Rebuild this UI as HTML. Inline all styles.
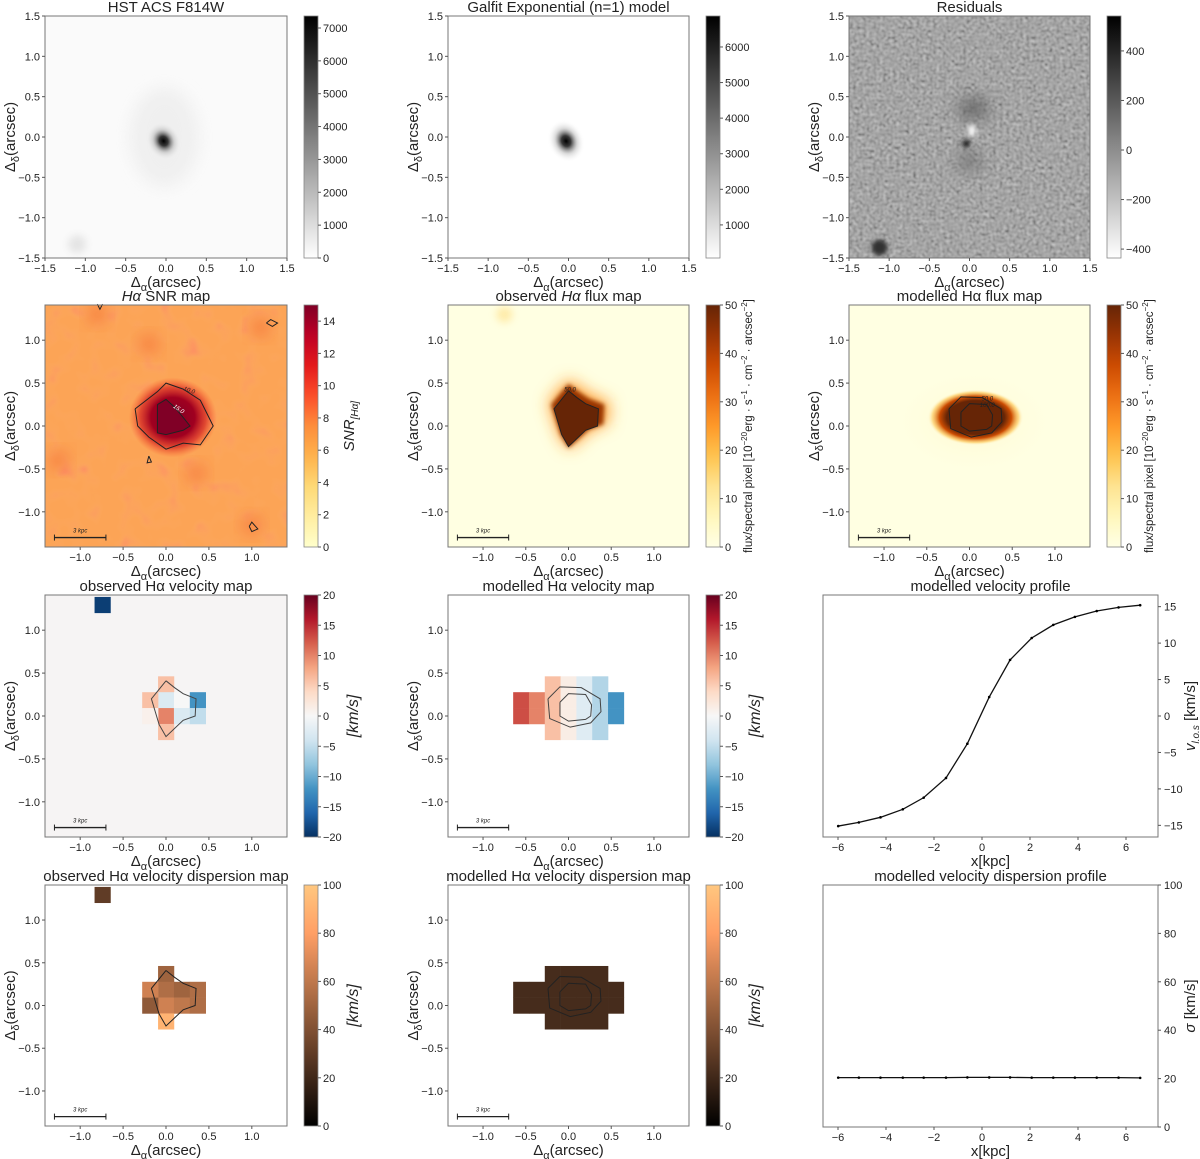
<!DOCTYPE html>
<html><head><meta charset="utf-8"><style>
html,body{margin:0;padding:0;background:#fff}
svg{display:block;font-family:"Liberation Sans","DejaVu Sans",sans-serif}
</style></head><body>
<svg id="fig" width="1200" height="1159" viewBox="0 0 1200 1159" xmlns="http://www.w3.org/2000/svg">
<defs>
<filter id="blur2" x="-50%" y="-50%" width="200%" height="200%"><feGaussianBlur stdDeviation="2"/></filter>
<filter id="blur4" x="-50%" y="-50%" width="200%" height="200%"><feGaussianBlur stdDeviation="4"/></filter>
<filter id="blur8" x="-50%" y="-50%" width="200%" height="200%"><feGaussianBlur stdDeviation="8"/></filter>
<filter id="noise" x="0" y="0" width="100%" height="100%">
<feTurbulence type="fractalNoise" baseFrequency="0.3" numOctaves="1" seed="3"/>
<feColorMatrix type="matrix" values="0.33 0.33 0.33 0 0  0.33 0.33 0.33 0 0  0.33 0.33 0.33 0 0  0 0 0 0 1"/>
<feComponentTransfer><feFuncR type="linear" slope="1.6" intercept="-0.3"/><feFuncG type="linear" slope="1.6" intercept="-0.3"/><feFuncB type="linear" slope="1.6" intercept="-0.3"/></feComponentTransfer>
</filter>
<filter id="noiseSNR" x="0" y="0" width="100%" height="100%">
<feTurbulence type="fractalNoise" baseFrequency="0.05" numOctaves="2" seed="7" result="t"/>
<feColorMatrix in="t" type="matrix" values="0 0 0 0 0.99  0 0 0 -0.9 0.95  0 0 0 0 0.2  0 0 0 1.6 -0.7"/>
</filter>
<clipPath id="clipSNR"><rect x="45" y="305" width="242" height="242"/></clipPath>
<clipPath id="clipRes"><rect x="849" y="16" width="241" height="242"/></clipPath>
<radialGradient id="hstCore"><stop offset="0" stop-color="#000"/><stop offset="0.25" stop-color="#222" stop-opacity="0.9"/><stop offset="0.6" stop-color="#999" stop-opacity="0.35"/><stop offset="1" stop-color="#fff" stop-opacity="0"/></radialGradient>
<radialGradient id="snrCore"><stop offset="0" stop-color="#800026"/><stop offset="0.5" stop-color="#a00020"/><stop offset="0.75" stop-color="#d42020" stop-opacity="0.7"/><stop offset="1" stop-color="#fc4e2a" stop-opacity="0"/></radialGradient>
<radialGradient id="modFlux"><stop offset="0" stop-color="#662506"/><stop offset="0.6" stop-color="#662506"/><stop offset="0.75" stop-color="#cc4c02"/><stop offset="0.9" stop-color="#fec44f" stop-opacity="0.6"/><stop offset="1" stop-color="#ffffe5" stop-opacity="0"/></radialGradient>
<radialGradient id="modHalo"><stop offset="0" stop-color="#fee391" stop-opacity="0.6"/><stop offset="1" stop-color="#ffffe5" stop-opacity="0"/></radialGradient>
</defs>
</svg>
<script>
// ---------- data ----------
const vCells_i = [-4, 0, 0, 0, 0, -1, -1, 1, 1, 2, 2];
const vCells_j = [7, 2, 1, 0, -1, 1, 0, 1, 0, 1, 0];
const vObsVals = [-19, 6, -3, 10, 6, 6, 1, 0, -3, -12, -5];
const dObsVals = [30, 50, 55, 65, 90, 65, 45, 50, 60, 55, 55];
const mCells_i = [-3, -2, -1, 0, 1, 2, 3, -3, -2, -1, 0, 1, 2, 3, -1, 0, 1, 2, -1, 0, 1, 2];
const mCells_j = [1, 1, 1, 1, 1, 1, 1, 0, 0, 0, 0, 0, 0, 0, 2, 2, 2, 2, -1, -1, -1, -1];
const vModVals = [13, 10, 6, 1.5, -2.5, -6, -12, 13, 10, 6, 1.5, -2.5, -6, -12, 6, 1.5, -2.5, -6, 6, 1.5, -2.5, -6];
const dModVals = [22, 22, 22, 22, 22, 22, 22, 22, 22, 22, 22, 22, 22, 22, 22, 22, 22, 22, 22, 22, 22, 22];
const profX = [-5.99, -5.13, -4.23, -3.3, -2.43, -1.5, -0.61, 0.3, 1.17, 2.07, 2.97, 3.87, 4.78, 5.69, 6.59];
const profV = [-15.1, -14.6, -13.9, -12.8, -11.2, -8.5, -3.8, 2.6, 7.7, 10.7, 12.5, 13.6, 14.4, 14.9, 15.2];
const profS = [20.4, 20.4, 20.4, 20.4, 20.4, 20.4, 20.5, 20.5, 20.5, 20.4, 20.4, 20.4, 20.4, 20.4, 20.3];
const mapTicks = [-1.0, -0.5, 0.0, 0.5, 1.0];
const hstTicks = [-1.5, -1.0, -0.5, 0.0, 0.5, 1.0, 1.5];
const profXTicks = [-6, -4, -2, 0, 2, 4, 6];
const profVTicks = [-15, -10, -5, 0, 5, 10, 15];
const profSTicks = [0, 20, 40, 60, 80, 100];
const obsContour = [[0,0.41],[0.1,0.33],[0.2,0.26],[0.35,0.2],[0.34,0.0],[0.2,-0.05],[0,-0.24],[-0.08,-0.1],[-0.17,0.2],[0,0.41]];
const modOuter = [[-0.24,0.2],[-0.1,0.34],[0.15,0.33],[0.37,0.2],[0.38,0.05],[0.26,-0.08],[0.02,-0.13],[-0.22,-0.03],[-0.24,0.2]];
const modInner = [[-0.1,0.16],[0.0,0.26],[0.2,0.25],[0.27,0.13],[0.26,0.0],[0.2,-0.04],[0.0,-0.06],[-0.1,0.0],[-0.1,0.16]];
const snr10 = [[-0.36,0.2],[-0.1,0.4],[0,0.5],[0.2,0.43],[0.4,0.3],[0.55,0.0],[0.4,-0.22],[0.2,-0.2],[0,-0.27],[-0.2,-0.13],[-0.33,0.0],[-0.36,0.2]];
const snr15 = [[-0.1,0.25],[0,0.31],[0.1,0.22],[0.2,0.1],[0.28,0.0],[0.2,-0.05],[0,-0.1],[-0.1,-0.08],[-0.1,0.1],[-0.1,0.25]];
const CELL = 0.185;

// ---------- helpers ----------
const svg = document.getElementById('fig');
const NS = 'http://www.w3.org/2000/svg';
function el(tag, attrs, name, parent) {
  const e = document.createElementNS(NS, tag);
  for (const k in attrs) e.setAttribute(k, attrs[k]);
  
  
  (parent || svg).appendChild(e);
  return e;
}
function txt(x, y, s, size, name, extra) {
  const t = el('text', Object.assign({x: x, y: y, 'font-size': size, fill: '#222'}, extra || {}), name);
  t.textContent = s;
  return t;
}
function hex(h){return [parseInt(h.slice(1,3),16),parseInt(h.slice(3,5),16),parseInt(h.slice(5,7),16)];}
function cmapStops(stops){const c=stops.map(hex);return function(t){t=Math.max(0,Math.min(1,t));const f=t*(c.length-1);const i=Math.min(c.length-2,Math.floor(f));const u=f-i;const r=c[i].map((v,k)=>Math.round(v+(c[i+1][k]-v)*u));return 'rgb('+r.join(',')+')';};}
const RdBu = cmapStops(['#053061','#2166ac','#4393c3','#92c5de','#d1e5f0','#f7f7f7','#fddbc7','#f4a582','#d6604d','#b2182b','#67001f']);
const YlOrBr = ['#ffffe5','#fff7bc','#fee391','#fec44f','#fe9929','#ec7014','#cc4c02','#993404','#662506'];
const YlOrRd = ['#ffffcc','#ffeda0','#fed976','#feb24c','#fd8d3c','#fc4e2a','#e31a1c','#bd0026','#800026'];
function copper(t){t=Math.max(0,Math.min(1,t));return 'rgb('+Math.round(255*Math.min(1,1.25*t))+','+Math.round(255*0.7812*t)+','+Math.round(255*0.4975*t)+')';}

function makeAxes(x0, y0, w, h, lo, hi, ticks, fmt) {
  const sx = v => x0 + (v - lo) / (hi - lo) * w;
  const sy = v => y0 + h - (v - lo) / (hi - lo) * h;
  return {x0, y0, w, h, sx, sy, ticks, fmt};
}
function drawFrame(a, title, key) {
  el('rect', {x: a.x0, y: a.y0, width: a.w, height: a.h, fill: 'none', stroke: '#777', 'stroke-width': 1}, key + '-frame');
  a.ticks.forEach(v => {
    const X = a.sx(v), Y = a.sy(v);
    el('line', {x1: X, y1: a.y0 + a.h, x2: X, y2: a.y0 + a.h + 3, stroke: '#555'}, key + '-x-tick');
    txt(X, a.y0 + a.h + 14, a.fmt(v), 11, key + '-x-tick-label', {'text-anchor': 'middle'});
    el('line', {x1: a.x0 - 3, y1: Y, x2: a.x0, y2: Y, stroke: '#555'}, key + '-y-tick');
    txt(a.x0 - 5, Y + 4, a.fmt(v), 11, key + '-y-tick-label', {'text-anchor': 'end'});
  });
  const xl = el('text', {x: a.x0 + a.w / 2, y: a.y0 + a.h + 29, 'font-size': 15, 'text-anchor': 'middle', fill: '#222'}, key + '-x-axis-title');
  xl.innerHTML = 'Δ<tspan font-size="11" dy="4">α</tspan><tspan dy="-4">(arcsec)</tspan>';
  const yl = el('text', {x: 0, y: 0, 'font-size': 15, 'text-anchor': 'middle', fill: '#222', transform: 'translate(' + (a.x0 - 30) + ',' + (a.y0 + a.h / 2) + ') rotate(-90)'}, key + '-y-axis-title');
  yl.innerHTML = 'Δ<tspan font-size="11" dy="4">δ</tspan><tspan dy="-4">(arcsec)</tspan>';
  const tt = el('text', {x: a.x0 + a.w / 2, y: a.y0 - 4, 'font-size': 15, 'text-anchor': 'middle', fill: '#222'}, key + '-title');
  tt.innerHTML = title;
}
function fmtMap(v){return (v<0?'\u2212':'')+Math.abs(v).toFixed(1);}
function fmtInt(v){return (v<0?'\u2212':'')+Math.abs(v);}

function colorbar(x, y0, h, lo, hi, ticks, colorFn, label, key, labelSize, labelDx) {
  const gid = 'g-' + key;
  const g = el('linearGradient', {id: gid, x1: 0, y1: 1, x2: 0, y2: 0}, key + '-gradient', svg.querySelector('defs'));
  for (let k = 0; k <= 20; k++) el('stop', {offset: k / 20, 'stop-color': colorFn(k / 20)}, key + '-stop', g);
  el('rect', {x: x, y: y0, width: 14, height: h, fill: 'url(#' + gid + ')', stroke: '#888', 'stroke-width': 0.8}, key + '-colorbar');
  ticks.forEach(v => {
    const Y = y0 + h - (v - lo) / (hi - lo) * h;
    el('line', {x1: x + 14, y1: Y, x2: x + 17, y2: Y, stroke: '#555'}, key + '-cb-tick');
    txt(x + 19, Y + 4, fmtInt(v), 11, key + '-cb-tick-label');
  });
  if (label) {
    const l = el('text', {x: 0, y: 0, 'font-size': labelSize || 15, 'text-anchor': 'middle', fill: '#222', transform: 'translate(' + (x + (labelDx || 52)) + ',' + (y0 + h / 2) + ') rotate(-90)'}, key + '-colorbar-label');
    l.innerHTML = label;
  }
}
function poly(a, pts, name, extra) {
  el('polyline', Object.assign({points: pts.map(p => a.sx(p[0]) + ',' + a.sy(p[1])).join(' '), fill: 'none', stroke: '#222', 'stroke-width': 1}, extra || {}), name);
}
function scalebar(a, key) {
  const y = a.sy(-1.3);
  el('line', {x1: a.sx(-1.3), y1: y, x2: a.sx(-0.7), y2: y, stroke: '#222', 'stroke-width': 1.3}, key + '-scalebar');
  el('line', {x1: a.sx(-1.3), y1: y - 3, x2: a.sx(-1.3), y2: y + 3, stroke: '#222'}, key + '-scalebar-cap');
  el('line', {x1: a.sx(-0.7), y1: y - 3, x2: a.sx(-0.7), y2: y + 3, stroke: '#222'}, key + '-scalebar-cap');
  txt(a.sx(-1.0), y - 5, '3 kpc', 6, key + '-scalebar-label', {'text-anchor': 'middle', 'font-style': 'italic'});
}
function cells(a, is, js, vals, colorFn, key) {
  for (let k = 0; k < vals.length; k++) {
    const cx = is[k] * CELL, cy = js[k] * CELL;
    const X1 = a.sx(cx - CELL / 2), X2 = a.sx(cx + CELL / 2), Y1 = a.sy(cy + CELL / 2), Y2 = a.sy(cy - CELL / 2);
    el('rect', {x: X1, y: Y1, width: X2 - X1 + 0.3, height: Y2 - Y1 + 0.3, fill: colorFn(vals[k])}, key + '-cell');
  }
}

const COLX = [45, 448, 849], AW = 242;
const ROWY = [16, 305, 595, 885];
const CBX = [304, 706, 1107];
const LIM = 1.41;
const fluxLabel = 'flux/spectral pixel [10<tspan font-size="8" dy="-5">−20</tspan><tspan dy="5">erg · s</tspan><tspan font-size="8" dy="-5">−1</tspan><tspan dy="5"> · cm</tspan><tspan font-size="8" dy="-5">−2</tspan><tspan dy="5"> · arcsec</tspan><tspan font-size="8" dy="-5">−2</tspan><tspan dy="5">]</tspan>';

// ---------- Row 1 ----------
let a = makeAxes(COLX[0], ROWY[0], AW, AW, -1.5, 1.5, hstTicks, fmtMap);
el('rect', {x: a.x0, y: a.y0, width: AW, height: AW, fill: '#fafafa'}, 'hst-image-bg');
el('ellipse', {cx: a.sx(-0.02), cy: a.sy(0.0), rx: 35, ry: 50, fill: '#e8e8e8', filter: 'url(#blur8)', opacity: 0.6}, 'hst-halo');
el('ellipse', {cx: a.sx(-0.03), cy: a.sy(-0.05), rx: 17, ry: 20, fill: 'url(#hstCore)', transform: 'rotate(-30 ' + a.sx(-0.03) + ' ' + a.sy(-0.05) + ')'}, 'hst-galaxy');
el('circle', {cx: a.sx(-1.1), cy: a.sy(-1.33), r: 9, fill: '#e4e4e4', filter: 'url(#blur4)'}, 'hst-companion');
drawFrame(a, 'HST ACS F814W', 'hst');
colorbar(CBX[0], ROWY[0], AW, 0, 7365, [0,1000,2000,3000,4000,5000,6000,7000], t => { const g = Math.round(255 * (1 - t)); return 'rgb(' + g + ',' + g + ',' + g + ')'; }, null, 'hst');

a = makeAxes(COLX[1], ROWY[0], AW - 1, AW, -1.5, 1.5, hstTicks, fmtMap);
el('rect', {x: a.x0, y: a.y0, width: a.w, height: AW, fill: '#fff'}, 'galfit-image-bg');
el('ellipse', {cx: a.sx(-0.03), cy: a.sy(-0.05), rx: 18, ry: 22, fill: 'url(#hstCore)', transform: 'rotate(-25 ' + a.sx(-0.03) + ' ' + a.sy(-0.05) + ')'}, 'galfit-model');
drawFrame(a, 'Galfit Exponential (n=1) model', 'galfit');
colorbar(CBX[1], ROWY[0], AW, 70, 6870, [1000,2000,3000,4000,5000,6000], t => { const g = Math.round(255 * (1 - t)); return 'rgb(' + g + ',' + g + ',' + g + ')'; }, null, 'galfit');

a = makeAxes(COLX[2], ROWY[0], AW - 1, AW, -1.5, 1.5, hstTicks, fmtMap);
el('rect', {x: a.x0, y: a.y0, width: a.w, height: AW, fill: '#8a8a8a'}, 'residual-image-bg');
el('rect', {x: a.x0, y: a.y0, width: a.w, height: AW, filter: 'url(#noise)', opacity: 0.55}, 'residual-noise');
el('ellipse', {cx: a.sx(0.05), cy: a.sy(0.35), rx: 16, ry: 12, fill: '#606060', filter: 'url(#blur8)', opacity: 0.8}, 'residual-upper');
el('ellipse', {cx: a.sx(0.0), cy: a.sy(-0.3), rx: 14, ry: 10, fill: '#6a6a6a', filter: 'url(#blur8)', opacity: 0.7}, 'residual-lower');
el('ellipse', {cx: a.sx(0.03), cy: a.sy(0.08), rx: 4, ry: 6, fill: '#f4f4f4', filter: 'url(#blur2)'}, 'residual-bright');
el('ellipse', {cx: a.sx(-0.04), cy: a.sy(-0.08), rx: 4, ry: 4, fill: '#222', filter: 'url(#blur2)'}, 'residual-dark');
el('circle', {cx: a.sx(-1.12), cy: a.sy(-1.37), r: 8, fill: '#333', filter: 'url(#blur2)', 'clip-path': 'url(#clipRes)'}, 'residual-companion');
drawFrame(a, 'Residuals', 'residual');
colorbar(CBX[2], ROWY[0], AW, -436, 541, [-400,-200,0,200,400], t => { const g = Math.round(255 * (1 - t)); return 'rgb(' + g + ',' + g + ',' + g + ')'; }, null, 'residual');

// ---------- Row 2 ----------
a = makeAxes(COLX[0], ROWY[1], AW, AW, -LIM, LIM, mapTicks, fmtMap);
el('rect', {x: a.x0, y: a.y0, width: AW, height: AW, fill: '#fca456'}, 'snr-image-bg');
el('rect', {x: a.x0, y: a.y0, width: AW, height: AW, filter: 'url(#noiseSNR)', opacity: 0.45}, 'snr-texture');
[[-0.8,1.3],[-0.2,0.95],[1.1,1.15],[1.0,-1.15],[-1.25,-0.4],[0.35,-0.55]].forEach(p => {
  el('circle', {cx: a.sx(p[0]), cy: a.sy(p[1]), r: 9, fill: '#f05028', opacity: 0.5, filter: 'url(#blur8)', 'clip-path': 'url(#clipSNR)'}, 'snr-blob');
});
el('ellipse', {cx: a.sx(0.08), cy: a.sy(0.1), rx: 44, ry: 40, fill: 'url(#snrCore)'}, 'snr-core');
poly(a, snr10, 'snr-contour-10');
poly(a, snr15, 'snr-contour-15', {fill: '#800026'});
poly(a, [[-0.8,1.42],[-0.77,1.36],[-0.74,1.42]], 'snr-contour-small');
poly(a, [[1.17,1.2],[1.22,1.24],[1.3,1.2],[1.24,1.16],[1.17,1.2]], 'snr-contour-small');
poly(a, [[-0.2,-0.35],[-0.17,-0.42],[-0.22,-0.43],[-0.2,-0.35]], 'snr-contour-small');
poly(a, [[0.97,-1.17],[1.0,-1.12],[1.07,-1.2],[1.0,-1.23],[0.97,-1.17]], 'snr-contour-small');
txt(a.sx(0.2), a.sy(0.42), '10.0', 6, 'snr-contour-label', {'font-style':'italic', transform: 'rotate(20 ' + a.sx(0.2) + ' ' + a.sy(0.42) + ')'});
txt(a.sx(0.08), a.sy(0.22), '15.0', 6, 'snr-contour-label', {'font-style':'italic', fill:'#fff', transform: 'rotate(35 ' + a.sx(0.08) + ' ' + a.sy(0.22) + ')'});
scalebar(a, 'snr');
drawFrame(a, '<tspan font-style="italic">Hα</tspan> SNR map', 'snr');
colorbar(CBX[0], ROWY[1], AW, 0, 15, [0,2,4,6,8,10,12,14], cmapStops(YlOrRd), '<tspan font-style="italic">SNR</tspan><tspan font-size="10" dy="4" font-style="italic">[Hα]</tspan>', 'snr', 15, 50);

a = makeAxes(COLX[1], ROWY[1], AW - 1, AW, -LIM, LIM, mapTicks, fmtMap);
el('rect', {x: a.x0, y: a.y0, width: a.w, height: AW, fill: '#ffffe2'}, 'obsflux-image-bg');
el('circle', {cx: a.sx(-0.75), cy: a.sy(1.3), r: 8, fill: '#fee391', opacity: 0.7, filter: 'url(#blur4)'}, 'obsflux-blob');
el('polygon', {points: obsContour.map(p => a.sx(p[0]*1.35) + ',' + a.sy(p[1]*1.25+0.03)).join(' '), fill: '#fe9929', filter: 'url(#blur8)'}, 'obsflux-glow');
el('polygon', {points: obsContour.map(p => a.sx(p[0]*1.2) + ',' + a.sy(p[1]*1.15+0.02)).join(' '), fill: '#993404', filter: 'url(#blur2)'}, 'obsflux-edge');
poly(a, obsContour, 'obsflux-contour-50', {fill: '#662506'});
txt(a.sx(-0.05), a.sy(0.4), '50.0', 6, 'obsflux-contour-label', {'font-style':'italic'});
scalebar(a, 'obsflux');
drawFrame(a, 'observed <tspan font-style="italic">Hα</tspan> flux map', 'obsflux');
colorbar(CBX[1], ROWY[1], AW, 0, 50, [0,10,20,30,40,50], cmapStops(YlOrBr), fluxLabel, 'obsflux', 11.5, 46);

a = makeAxes(COLX[2], ROWY[1], AW - 1, AW, -LIM, LIM, mapTicks, fmtMap);
el('rect', {x: a.x0, y: a.y0, width: a.w, height: AW, fill: '#ffffe2'}, 'modflux-image-bg');
el('ellipse', {cx: a.sx(0.05), cy: a.sy(0.05), rx: 85, ry: 55, fill: 'url(#modHalo)', opacity: 0.5}, 'modflux-halo');
el('ellipse', {cx: a.sx(0.07), cy: a.sy(0.1), rx: 48, ry: 28, fill: 'url(#modFlux)'}, 'modflux-core');
poly(a, modOuter, 'modflux-contour-50');
poly(a, modInner, 'modflux-contour-100');
txt(a.sx(0.14), a.sy(0.3), '50.0', 6, 'modflux-contour-label', {'font-style':'italic'});
txt(a.sx(0.12), a.sy(0.22), '100.0', 6, 'modflux-contour-label', {'font-style':'italic'});
scalebar(a, 'modflux');
drawFrame(a, 'modelled  Hα flux map', 'modflux');
colorbar(CBX[2], ROWY[1], AW, 0, 50, [0,10,20,30,40,50], cmapStops(YlOrBr), fluxLabel, 'modflux', 11.5, 46);

// ---------- Row 3 ----------
const vColor = v => RdBu((v + 20) / 40);
a = makeAxes(COLX[0], ROWY[2], AW, AW, -LIM, LIM, mapTicks, fmtMap);
el('rect', {x: a.x0, y: a.y0, width: AW, height: AW, fill: '#f6f4f4'}, 'obsvel-image-bg');
cells(a, vCells_i, vCells_j, vObsVals, vColor, 'obsvel');
poly(a, obsContour, 'obsvel-contour', {stroke: '#444'});
scalebar(a, 'obsvel');
drawFrame(a, 'observed Hα velocity map', 'obsvel');
colorbar(CBX[0], ROWY[2], AW, -20, 20, [-20,-15,-10,-5,0,5,10,15,20], t => RdBu(t), '<tspan font-style="italic">[km/s]</tspan>', 'obsvel', 16, 54);

a = makeAxes(COLX[1], ROWY[2], AW - 1, AW, -LIM, LIM, mapTicks, fmtMap);
el('rect', {x: a.x0, y: a.y0, width: a.w, height: AW, fill: '#fff'}, 'modvel-image-bg');
cells(a, mCells_i, mCells_j, vModVals, vColor, 'modvel');
poly(a, modOuter, 'modvel-contour-outer', {stroke: '#444'});
poly(a, modInner, 'modvel-contour-inner', {stroke: '#444'});
scalebar(a, 'modvel');
drawFrame(a, 'modelled  Hα velocity map', 'modvel');
colorbar(CBX[1], ROWY[2], AW, -20, 20, [-20,-15,-10,-5,0,5,10,15,20], t => RdBu(t), '<tspan font-style="italic">[km/s]</tspan>', 'modvel', 16, 54);

function profile(y0, lo, hi, ticksY, xs, ys, title, ylabel, key) {
  const x0 = 823, w = 335, h = AW;
  const sx = v => 982 + v * 24;
  const sy = v => y0 + h - (v - lo) / (hi - lo) * h;
  el('rect', {x: x0, y: y0, width: w, height: h, fill: '#fff', stroke: '#777'}, key + '-frame');
  profXTicks.forEach(v => {
    el('line', {x1: sx(v), y1: y0 + h, x2: sx(v), y2: y0 + h + 3, stroke: '#555'}, key + '-x-tick');
    txt(sx(v), y0 + h + 14, fmtInt(v), 11, key + '-x-tick-label', {'text-anchor': 'middle'});
  });
  ticksY.forEach(v => {
    el('line', {x1: x0 + w, y1: sy(v), x2: x0 + w + 3, y2: sy(v), stroke: '#555'}, key + '-y-tick');
    txt(x0 + w + 6, sy(v) + 4, fmtInt(v), 11, key + '-y-tick-label');
  });
  el('polyline', {points: xs.map((x, k) => sx(x) + ',' + sy(ys[k])).join(' '), fill: 'none', stroke: '#111', 'stroke-width': 1.3}, key + '-line');
  xs.forEach((x, k) => el('circle', {cx: sx(x), cy: sy(ys[k]), r: 1.3, fill: '#000'}, key + '-point'));
  txt(x0 + w / 2, y0 + h + 29, 'x[kpc]', 15, key + '-x-axis-title', {'text-anchor': 'middle'});
  const t = el('text', {x: x0 + w / 2, y: y0 - 4, 'font-size': 15, 'text-anchor': 'middle', fill: '#222'}, key + '-title');
  t.textContent = title;
  const yl = el('text', {x: 0, y: 0, 'font-size': 15, 'text-anchor': 'middle', fill: '#222', transform: 'translate(' + (x0 + w + 37) + ',' + (y0 + h / 2) + ') rotate(-90)'}, key + '-y-axis-title');
  yl.innerHTML = ylabel;
}
profile(ROWY[2], -16.6, 16.6, profVTicks, profX, profV, 'modelled  velocity profile', '<tspan font-style="italic">v</tspan><tspan font-size="10" dy="4" font-style="italic">l.o.s</tspan><tspan dy="-4"> [km/s]</tspan>', 'velprof');

// ---------- Row 4 ----------
const dColor = v => copper(v / 100);
a = makeAxes(COLX[0], ROWY[3], AW, AW - 1, -LIM, LIM, mapTicks, fmtMap);
el('rect', {x: a.x0, y: a.y0, width: AW, height: a.h, fill: '#fff'}, 'obsdisp-image-bg');
cells(a, vCells_i, vCells_j, dObsVals, dColor, 'obsdisp');
poly(a, obsContour, 'obsdisp-contour');
scalebar(a, 'obsdisp');
drawFrame(a, 'observed Hα velocity dispersion map', 'obsdisp');
colorbar(CBX[0], ROWY[3], a.h, 0, 100, [0,20,40,60,80,100], t => copper(t), '<tspan font-style="italic">[km/s]</tspan>', 'obsdisp', 16, 54);

a = makeAxes(COLX[1], ROWY[3], AW - 1, AW - 1, -LIM, LIM, mapTicks, fmtMap);
el('rect', {x: a.x0, y: a.y0, width: a.w, height: a.h, fill: '#fff'}, 'moddisp-image-bg');
cells(a, mCells_i, mCells_j, dModVals, dColor, 'moddisp');
poly(a, modOuter, 'moddisp-contour-outer');
poly(a, modInner, 'moddisp-contour-inner');
scalebar(a, 'moddisp');
drawFrame(a, 'modelled  Hα velocity dispersion map', 'moddisp');
colorbar(CBX[1], ROWY[3], a.h, 0, 100, [0,20,40,60,80,100], t => copper(t), '<tspan font-style="italic">[km/s]</tspan>', 'moddisp', 16, 54);

profile(ROWY[3], 0, 100, profSTicks, profX, profS, 'modelled  velocity dispersion profile', '<tspan font-style="italic">σ</tspan> [km/s]', 'dispprof');
</script>
</body></html>
